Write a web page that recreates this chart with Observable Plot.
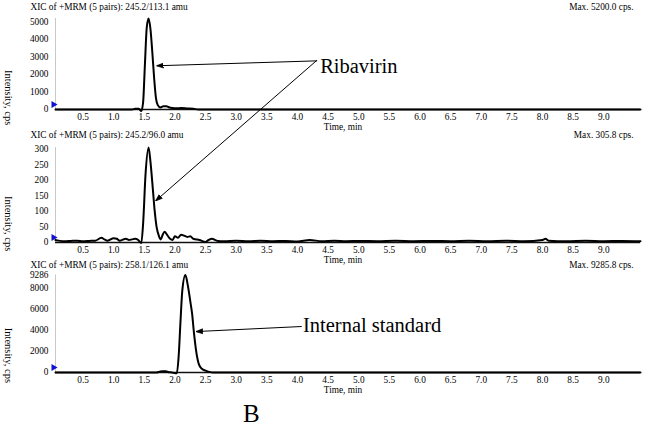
<!DOCTYPE html>
<html><head><meta charset="utf-8">
<script src="https://cdn.jsdelivr.net/npm/d3@7"></script>
<script src="https://cdn.jsdelivr.net/npm/@observablehq/plot@0.6"></script>
<style>
body{margin:0;background:#fff;}
#chart{position:relative;width:645px;height:434px;font-family:"Liberation Serif",serif;background:#fff;}
#chart svg{position:absolute;left:0;overflow:visible;font-family:"Liberation Serif",serif !important;}
#chart svg text, #chart svg g{font-family:"Liberation Serif",serif !important;}
#caption{position:absolute;left:243px;top:401px;font-size:25px;line-height:1;color:#000;}
</style></head><body>
<div id="chart"><div id="caption">B</div></div>
<script>
// ---- data ----
const xTicks = [0.5,1.0,1.5,2.0,2.5,3.0,3.5,4.0,4.5,5.0,5.5,6.0,6.5,7.0,7.5,8.0,8.5,9.0];
const xDomain = [0.05, 9.6];

// Panel 1: 245.2/113.1 amu
const time1 = [0.05,0.5,1.0,1.3,1.35,1.41,1.45,1.48,1.51,1.54,1.57,1.60,1.63,1.66,1.69,1.72,1.76,1.81,1.86,1.91,1.96,2.02,2.1,2.2,2.3,2.38,3.0,4.0,5.0,6.0,7.0,8.0,9.0,9.6];
const int1  = [0,0,0,0,40,50,-90,400,2600,4700,5200,4600,3300,1800,650,250,120,180,190,110,80,70,80,60,40,0,0,0,0,0,0,0,0,0];
const yTicks1 = [0,1000,2000,3000,4000,5000];
const max1 = 5200.0;

// Panel 2: 245.2/96.0 amu
const time2 = [0.05,0.1,0.2,0.3,0.4,0.5,0.6,0.7,0.8,0.85,0.9,1.0,1.05,1.1,1.2,1.25,1.3,1.35,1.4,1.45,1.48,1.52,1.57,1.60,1.64,1.67,1.70,1.74,1.77,1.80,1.83,1.87,1.92,1.96,2.0,2.05,2.1,2.15,2.2,2.25,2.3,2.4,2.5,2.55,2.6,2.7,2.8,3.0,3.2,3.4,3.6,3.8,4.0,4.2,4.4,4.6,4.8,5.0,5.3,5.6,5.9,6.2,6.5,6.8,7.1,7.4,7.7,8.0,8.05,8.1,8.4,8.7,9.0,9.3,9.6];
const int2  = [8,6,4,5,6,4,5,6,15,10,6,14,12,6,12,8,10,12,8,-2,60,220,305.8,260,170,100,50,20,10,25,35,25,12,8,20,15,25,22,18,20,12,8,2,8,12,5,4,6,4,6,4,5,3,8,4,6,4,5,4,6,4,5,4,6,4,6,4,8,12,6,4,6,4,5,4];
const yTicks2 = [0,50,100,150,200,250,300];
const max2 = 305.8;

// Panel 3: 258.1/126.1 amu
const time3 = [0.05,0.5,1.0,1.5,1.7,1.75,1.8,1.85,1.9,1.95,2.0,2.03,2.06,2.09,2.12,2.17,2.21,2.25,2.28,2.31,2.35,2.39,2.44,2.5,2.56,2.62,3.0,4.0,5.0,6.0,7.0,8.0,9.0,9.6];
const int3  = [0,0,0,0,0,80,130,110,30,0,-60,-80,1500,4800,7800,9285.8,8300,6800,5600,3800,1900,800,350,180,60,0,0,0,0,0,0,0,0,0];
const yTicks3 = [0,2000,4000,6000,8000,9286];
const max3 = 9285.8;

const titles = ["XIC of +MRM (5 pairs): 245.2/113.1 amu","XIC of +MRM (5 pairs): 245.2/96.0 amu","XIC of +MRM (5 pairs): 258.1/126.1 amu"];
const maxLabels = ["Max. 5200.0 cps.","Max. 305.8 cps.","Max. 9285.8 cps."];

// annotations (data coordinates of the panel they are drawn in)
const ribavirinText = [{t: 4.37, v: 2440, label: "Ribavirin"}];
const ribavirinArrow1 = [{t1: 4.32, v1: 2780, t2: 1.71, v2: 2500}];
const ribavirinArrow2 = [{t1: 4.32, v1: 587, t2: 1.69, v2: 135}];
const isText = [{t: 4.09, v: 4480, label: "Internal standard"}];
const isArrow = [{t1: 4.07, v1: 4380, t2: 2.35, v2: 3900}];

const SERIF = "Liberation Serif, Times New Roman, serif";

// ---- drawing ----
function filledArrow(color, context) {
  const doc = (context && context.document) || document;
  const ns = "http://www.w3.org/2000/svg";
  const m = doc.createElementNS(ns, "marker");
  m.setAttribute("viewBox", "0 -5 10 10");
  m.setAttribute("refX", "9");
  m.setAttribute("refY", "0");
  m.setAttribute("markerWidth", "7");
  m.setAttribute("markerHeight", "7");
  m.setAttribute("markerUnits", "userSpaceOnUse");
  m.setAttribute("orient", "auto");
  const p = doc.createElementNS(ns, "path");
  p.setAttribute("d", "M0,-3.5L10,0L0,3.5Z");
  p.setAttribute("fill", color);
  m.appendChild(p);
  return m;
}

function panel(cfg) {
  const data = cfg.time.map((t, i) => ({t, v: cfg.intensity[i]}));
  const svg = Plot.plot({
    width: 645, height: cfg.height,
    marginLeft: 55, marginRight: 5, marginTop: cfg.mt, marginBottom: cfg.mb,
    style: {fontFamily: SERIF, fontSize: "9.3px", overflow: "visible", background: "transparent", color: "#000"},
    x: {domain: xDomain, label: null},
    y: {domain: [0, cfg.max], label: null},
    marks: [
      Plot.axisX({ticks: xTicks, tickFormat: d3.format(".1f"), tickSize: 0, tickPadding: 4, label: null, fontFamily: SERIF, fontSize: 9.3}),
      Plot.axisY({ticks: cfg.yTicks, tickFormat: d3.format("d"), tickSize: 0, tickPadding: 7, label: null, fontFamily: SERIF, fontSize: 9.3}),
      Plot.ruleX([xDomain[0]], {stroke: "#c8c8c8", strokeWidth: 1}),
      Plot.ruleY([0], {stroke: "#111", strokeWidth: 1.6}),
      Plot.line(data, {x: "t", y: "v", stroke: "#000", strokeWidth: 2, curve: "monotone-x"}),
      Plot.dot([0], {x: () => xDomain[0], y: 0, dx: -2, dy: -5, symbol: "triangle", rotate: 90, r: 2.6, fill: "#1010d0", stroke: null}),
      Plot.text([cfg.title], {frameAnchor: "top-left", dx: -25, dy: -(cfg.mt - cfg.titleY), textAnchor: "start", lineAnchor: "middle", fontSize: 9.3, fontFamily: SERIF}),
      Plot.text([cfg.maxLabel], {frameAnchor: "top-right", dx: -7, dy: -(cfg.mt - cfg.titleY), textAnchor: "end", lineAnchor: "middle", fontSize: 9.3, fontFamily: SERIF}),
      Plot.text(["Intensity, cps"], {frameAnchor: "left", dx: -47, dy: cfg.ylabDy, rotate: 90, fontSize: 10.5, fontFamily: SERIF}),
      Plot.text(["Time, min"], {frameAnchor: "bottom", dx: -5, dy: 14, lineAnchor: "top", fontSize: 9.3, fontFamily: SERIF}),
      ...(cfg.extra || [])
    ]
  });
  svg.style.top = cfg.top + "px";
  return svg;
}

const chart = document.getElementById("chart");

chart.appendChild(panel({
  time: time1, intensity: int1, yTicks: yTicks1, max: max1,
  title: titles[0], maxLabel: maxLabels[0],
  top: 0, height: 130, mt: 18, mb: 21, titleY: 7, ylabDy: 6,
  extra: [
    Plot.link(ribavirinArrow1, {x1: "t1", y1: "v1", x2: "t2", y2: "v2", stroke: "#000", strokeWidth: 1, markerEnd: filledArrow}),
    Plot.text(ribavirinText, {x: "t", y: "v", text: "label", textAnchor: "start", lineAnchor: "middle", fontSize: 20.5, fontFamily: SERIF})
  ]
}));

chart.appendChild(panel({
  time: time2, intensity: int2, yTicks: yTicks2, max: max2,
  title: titles[1], maxLabel: maxLabels[1],
  top: 130, height: 132, mt: 17, mb: 20, titleY: 5, ylabDy: 1,
  extra: [
    Plot.link(ribavirinArrow2, {x1: "t1", y1: "v1", x2: "t2", y2: "v2", stroke: "#000", strokeWidth: 1, markerEnd: filledArrow})
  ]
}));

chart.appendChild(panel({
  time: time3, intensity: int3, yTicks: yTicks3, max: max3,
  title: titles[2], maxLabel: maxLabels[2],
  top: 262, height: 131, mt: 12.5, mb: 21, titleY: 2.5, ylabDy: 4,
  extra: [
    Plot.link(isArrow, {x1: "t1", y1: "v1", x2: "t2", y2: "v2", stroke: "#000", strokeWidth: 1, markerEnd: filledArrow}),
    Plot.text(isText, {x: "t", y: "v", text: "label", textAnchor: "start", lineAnchor: "middle", fontSize: 20.5, fontFamily: SERIF})
  ]
}));
</script>
</body></html>
